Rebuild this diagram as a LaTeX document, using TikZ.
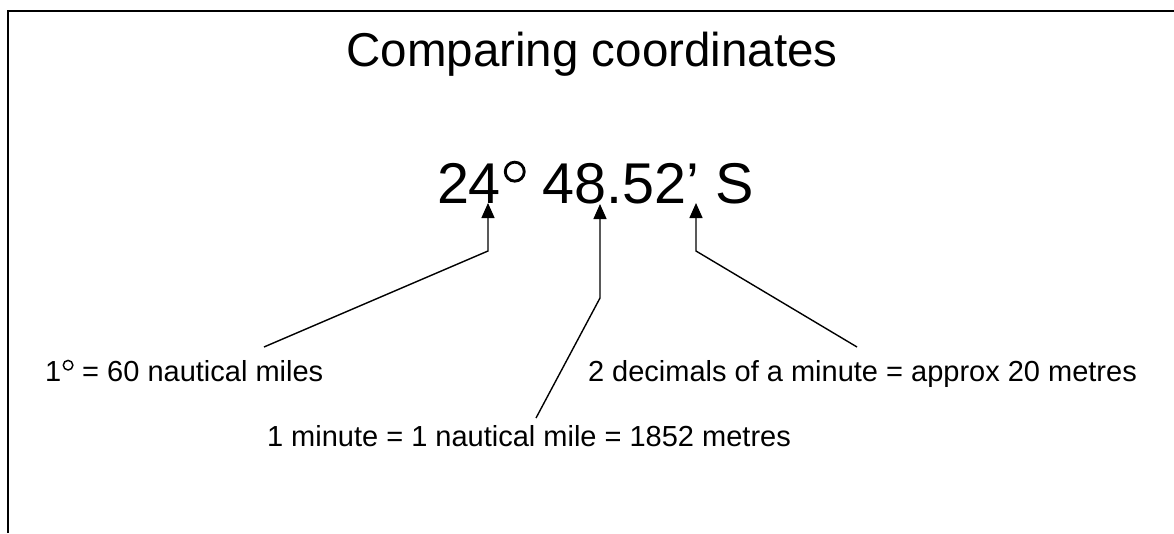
\documentclass[tikz,border=0pt]{standalone}
\usepackage{fontspec}
\setmainfont{Liberation Sans}
\usetikzlibrary{arrows.meta}
\newcommand{\degring}{\hspace{0.06em}\tikz[baseline=0pt,x=1cm,y=1cm]{\useasboundingbox (0,0) rectangle (0.36em,0.7em);\draw[line width=0.05em,black] (0.18em,0.545em) circle[radius=0.165em];}\hspace{0.03em}}
\begin{document}
\begin{tikzpicture}[x=1pt,y=-1pt,
  txt/.style={inner sep=0pt,outer sep=0pt,anchor=base west,text=black},
  conn/.style={line width=1.4pt,black,-{Triangle[width=13pt,length=15pt]}},
  frame/.style={line width=2pt,black}]
\useasboundingbox (0,0) rectangle (1174,533);
% frame
\coordinate (fbl) at (8,533);
\coordinate (ftl) at (8,11);
\coordinate (ftr) at (1174,11);
\draw[frame] (fbl) -- (ftl) -- (ftr);
% title
\node[inner sep=0pt,anchor=base] (title) at (592,66) {\fontsize{47.5}{50}\selectfont Comparing coordinates};
% main coordinate
\node[txt] (coord) at (437,203) {\fontsize{57.5}{60}\selectfont 24\degring{} 48.52’ S};
% labels
\node[txt] (lab1) at (45,381) {\fontsize{29}{32}\selectfont 1\degring{} = 60 nautical miles};
\node[txt] (lab3) at (588,381) {\fontsize{29}{32}\selectfont 2 decimals of a minute = approx 20 metres};
\node[txt] (lab2) at (267,446) {\fontsize{29}{32}\selectfont 1 minute = 1 nautical mile = 1852 metres};
% connector points
\coordinate (t1) at (488,203);
\coordinate (b1) at (488,251);
\coordinate (e1) at (264,347);
\coordinate (t2) at (600,204);
\coordinate (b2) at (600,298);
\coordinate (e2) at (536,418);
\coordinate (t3) at (696,203);
\coordinate (b3) at (696,251);
\coordinate (e3) at (857,347);
\draw[conn] (e1) -- (b1) -- (t1);
\draw[conn] (e2) -- (b2) -- (t2);
\draw[conn] (e3) -- (b3) -- (t3);
\end{tikzpicture}
\end{document}
